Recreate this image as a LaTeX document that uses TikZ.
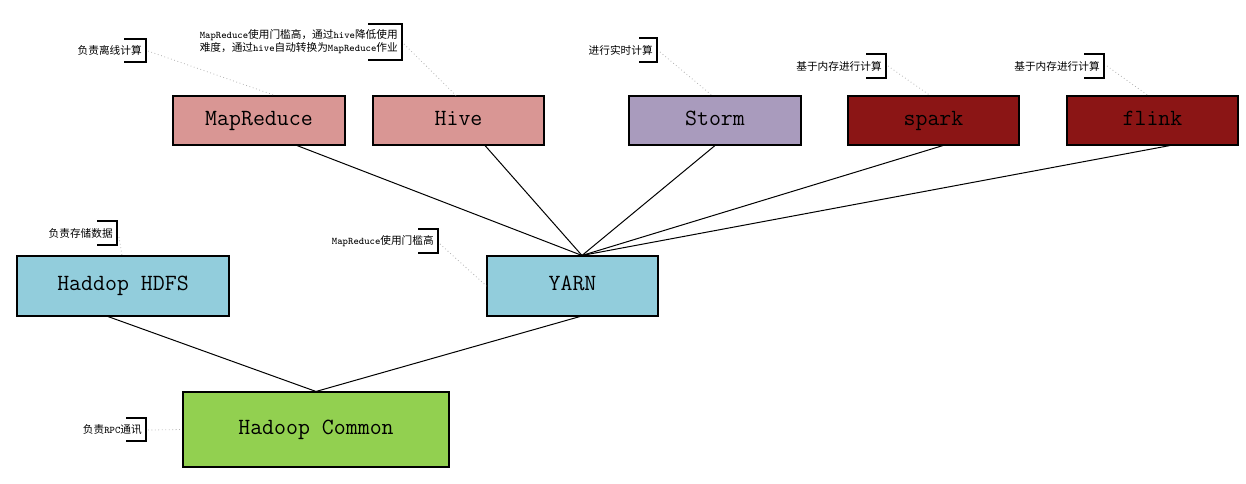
\documentclass[tikz,border=0pt]{standalone}
\usepackage{fontspec}
\newfontfamily\cjk{Noto Sans CJK SC}
\newcommand{\lat}[1]{{\ttfamily\fontsize{7.6}{9}\selectfont #1}}
\definecolor{pinkc}{HTML}{D99694}
\definecolor{lavc}{HTML}{A99BBD}
\definecolor{darkredc}{HTML}{8B1515}
\definecolor{bluec}{HTML}{92CDDC}
\definecolor{greenc}{HTML}{92D050}
\begin{document}
\begin{tikzpicture}[x=0.75pt,y=-0.75pt,
  boxnode/.style={draw=black,line width=0.8pt,inner sep=0pt,text height=0.85em,text depth=0.15em,font=\ttfamily\fontsize{17.4}{20}\selectfont},
  notetext/.style={anchor=east,inner sep=0pt,font=\cjk\fontsize{8}{9.75}\selectfont,align=left},
  bracketline/.style={draw=black,line width=0.8pt},
  dotline/.style={draw=gray!60,dotted,line width=0.6pt},
  conn/.style={draw=black,line width=0.75pt}]
\useasboundingbox (0,0) rectangle (1246,483);
% boxes
\node[boxnode,fill=pinkc,minimum width=129pt,minimum height=36.75pt] (mr) at (259,120.5) {MapReduce};
\node[boxnode,fill=pinkc,minimum width=128.25pt,minimum height=36.75pt] (hive) at (458.5,120.5) {Hive};
\node[boxnode,fill=lavc,minimum width=129pt,minimum height=36.75pt] (storm) at (715,120.5) {Storm};
\node[boxnode,fill=darkredc,minimum width=128.25pt,minimum height=36.75pt] (spark) at (933.5,120.5) {spark};
\node[boxnode,fill=darkredc,minimum width=128.25pt,minimum height=36.75pt] (flink) at (1152.5,120.5) {flink};
\node[boxnode,fill=bluec,minimum width=159pt,minimum height=45pt] (hdfs) at (123,286) {Haddop HDFS};
\node[boxnode,fill=bluec,minimum width=128.25pt,minimum height=45pt] (yarn) at (572.5,286) {YARN};
\node[boxnode,fill=greenc,minimum width=199.5pt,minimum height=56.25pt] (common) at (316,429.5) {Hadoop Common};
% connectors
\coordinate (yt) at ([xshift=7.1pt]yarn.north);
\draw[conn] ([xshift=28.5pt]mr.south) -- (yt);
\draw[conn] ([xshift=19.9pt]hive.south) -- (yt);
\draw[conn] (storm.south) -- (yt);
\draw[conn] ([xshift=7.1pt]spark.south) -- (yt);
\draw[conn] ([xshift=13.1pt]flink.south) -- (yt);
\draw[conn] ([xshift=-11.25pt]hdfs.south) -- (common.north);
\draw[conn] ([xshift=5.6pt]yarn.south) -- (common.north);
% callouts
% 1
\node[notetext] (n1) at (142,50.5) {负责离线计算};
\draw[bracketline] (124,39) -- (146,39) -- (146,62) -- (124,62);
\coordinate (b1) at (148,51);
\draw[dotline] (b1) -- ([xshift=12pt]mr.north);
% 2
\node[notetext] (n2) at (398,42) {\lat{MapReduce}使用门槛高，通过\lat{hive}降低使用\\难度，通过\lat{hive}自动转换为\lat{MapReduce}作业};
\draw[bracketline] (368,24) -- (402,24) -- (402,60) -- (368,60);
\coordinate (b2) at (404,44);
\draw[dotline] (b2) -- ([xshift=-1.9pt]hive.north);
% 3
\node[notetext] (n3) at (653,50) {进行实时计算};
\draw[bracketline] (639,38) -- (657,38) -- (657,62) -- (639,62);
\coordinate (b3) at (660,52);
\draw[dotline] (b3) -- ([xshift=-2.25pt]storm.north);
% 4
\node[notetext] (n4) at (882,66) {基于内存进行计算};
\draw[bracketline] (866,54) -- (886,54) -- (886,78) -- (866,78);
\coordinate (b4) at (888,66);
\draw[dotline] (b4) -- ([xshift=-2.6pt]spark.north);
% 5
\node[notetext] (n5) at (1100,66) {基于内存进行计算};
\draw[bracketline] (1084,54) -- (1104,54) -- (1104,78) -- (1084,78);
\coordinate (b5) at (1107,66);
\draw[dotline] (b5) -- ([xshift=-3.4pt]flink.north);
% 6
\node[notetext] (n6) at (113,233) {负责存储数据};
\draw[bracketline] (97,221) -- (117,221) -- (117,245) -- (97,245);
\coordinate (b6) at (119,237);
\draw[dotline] (b6) -- ([xshift=-0.75pt]hdfs.north);
% 7
\node[notetext] (n7) at (434,241) {\lat{MapReduce}使用门槛高};
\draw[bracketline] (418,229) -- (438,229) -- (438,253) -- (418,253);
\coordinate (b7) at (440,244);
\draw[dotline] (b7) -- (yarn.west);
% 8
\node[notetext] (n8) at (142,429.5) {负责\lat{RPC}通讯};
\draw[bracketline] (126,418) -- (146,418) -- (146,441) -- (126,441);
\coordinate (b8) at (148,430);
\draw[dotline] (b8) -- (common.west);
\end{tikzpicture}
\end{document}
